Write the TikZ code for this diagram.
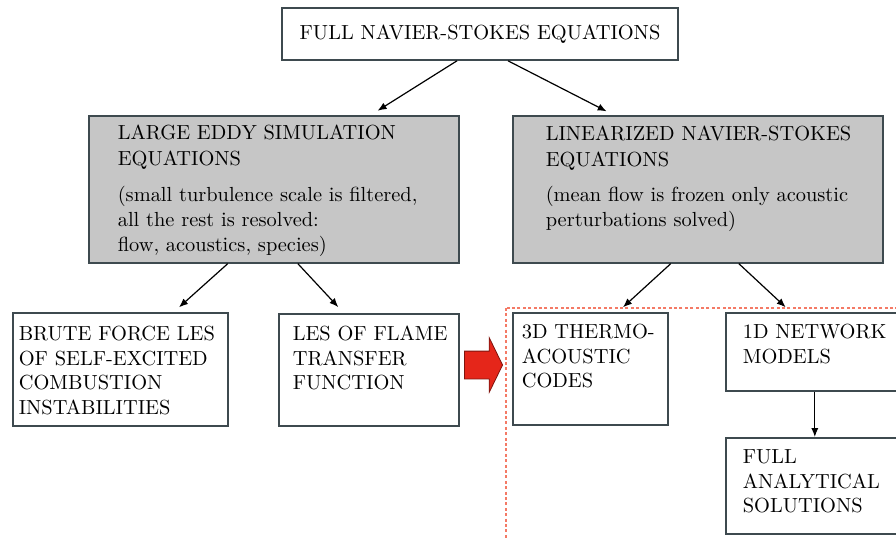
\documentclass[tikz,border=0pt]{standalone}
\usetikzlibrary{positioning, shapes.arrows, arrows.meta}
\definecolor{edgeColor}{HTML}{3E4A4F}
\definecolor{shadeColor}{HTML}{C6C6C6}
\definecolor{dashColor}{HTML}{F47A66}
\definecolor{accentColor}{HTML}{E5261A}

\begin{document}
\begin{tikzpicture}[
  x=0.5pt, y=-0.5pt,
  every node/.style={font=\fontsize{10.2}{12.2}\selectfont},
  box/.style={
    rectangle,
    draw=edgeColor,
    line width=0.8pt,
    anchor=north west,
    align=left,
    inner sep=0pt
  },
  topbox/.style={
    rectangle,
    draw=edgeColor,
    line width=0.8pt,
    minimum width=198pt,
    minimum height=26pt,
    inner sep=0pt
  },
  shaded/.style={box, fill=shadeColor, font=\fontsize{10.2}{12.6}\selectfont},
  pad/.style={execute at begin node={\leftskip=#1}},
  arrow/.style={
    -{Latex[length=4.5pt, width=3.6pt]},
    line width=0.6pt,
    shorten >=#1
  },
  arrow/.default=0pt,
  bigarrow/.style={
    single arrow,
    fill=accentColor,
    draw=accentColor!55!black,
    line width=0.4pt,
    minimum height=19pt,
    inner xsep=0pt,
    inner ysep=6.75pt,
    single arrow head extend=6.75pt,
    single arrow tip angle=128
  },
  dashbox/.style={draw=dashColor, line width=0.9pt, dash pattern=on 1.5pt off 1.2pt}
]
  \useasboundingbox (0,0) rectangle (896,537);
  \clip (0,0) rectangle (896,537);

  % Define nodes
  \node[topbox] (nse) at (480,34) {FULL NAVIER-STOKES EQUATIONS};
  \node[shaded, pad=14.5pt, text width=185pt, text height=12pt, text depth=61.5pt] (les) at (88,115)
    {LARGE EDDY SIMULATION\\EQUATIONS\\[5.5pt](small turbulence scale is filtered,\\all the rest is resolved:\\flow, acoustics, species)};
  \node[shaded, pad=16.5pt, text width=185pt, text height=12.5pt, text depth=61pt] (lns) at (512,115)
    {LINEARIZED NAVIER-STOKES\\EQUATIONS\\[5pt](mean flow is frozen only acoustic\\perturbations solved)};
  \node[box, pad=3pt, text width=107.5pt, text height=14pt, text depth=42.5pt] (brute) at (12,312)
    {BRUTE FORCE LES\\OF SELF-EXCITED\\COMBUSTION\\INSTABILITIES};
  \node[box, pad=7pt, text width=90pt, text height=13.5pt, text depth=42.5pt] (flame) at (278,313)
    {LES OF FLAME\\TRANSFER\\FUNCTION};
  \node[box, pad=4.5pt, text width=77.5pt, text height=13pt, text depth=43pt] (thermo) at (512,312)
    {3D THERMO-\\ACOUSTIC\\CODES};
  \node[box, pad=8.5pt, text width=110pt, text height=13pt, text depth=26pt] (network) at (725,312)
    {1D NETWORK\\MODELS};
  \node[box, pad=8.5pt, text width=110pt, text height=13pt, text depth=35pt] (analytic) at (725,437)
    {FULL\\ANALYTICAL\\SOLUTIONS};

  % Low-order region and shift arrow
  \draw[dashbox] (506,308) rectangle (920,560);
  \node[bigarrow, anchor=tip] (shift) at (503,365) {};

  % Connect nodes with arrows
  \draw[arrow=4pt] ([xshift=-11.5pt]nse.south) -- ([xshift=48.5pt]les.north);
  \draw[arrow=4pt] ([xshift=14pt]nse.south) -- ([xshift=-42pt]lns.north);
  \draw[arrow=3.5pt] ([xshift=-23pt]les.south) -- ([xshift=26.75pt]brute.north);
  \draw[arrow=4pt] ([xshift=12pt]les.south) -- ([xshift=-12.5pt]flame.north);
  \draw[arrow=3.5pt] ([xshift=-13.5pt]lns.south) -- ([xshift=13.75pt]thermo.north);
  \draw[arrow=3.5pt] ([xshift=20.5pt]lns.south) -- ([xshift=-22.5pt]network.north);
  \draw[arrow] ([xshift=-10.5pt]network.south) -- ([xshift=-10.5pt]analytic.north);
\end{tikzpicture}
\end{document}
